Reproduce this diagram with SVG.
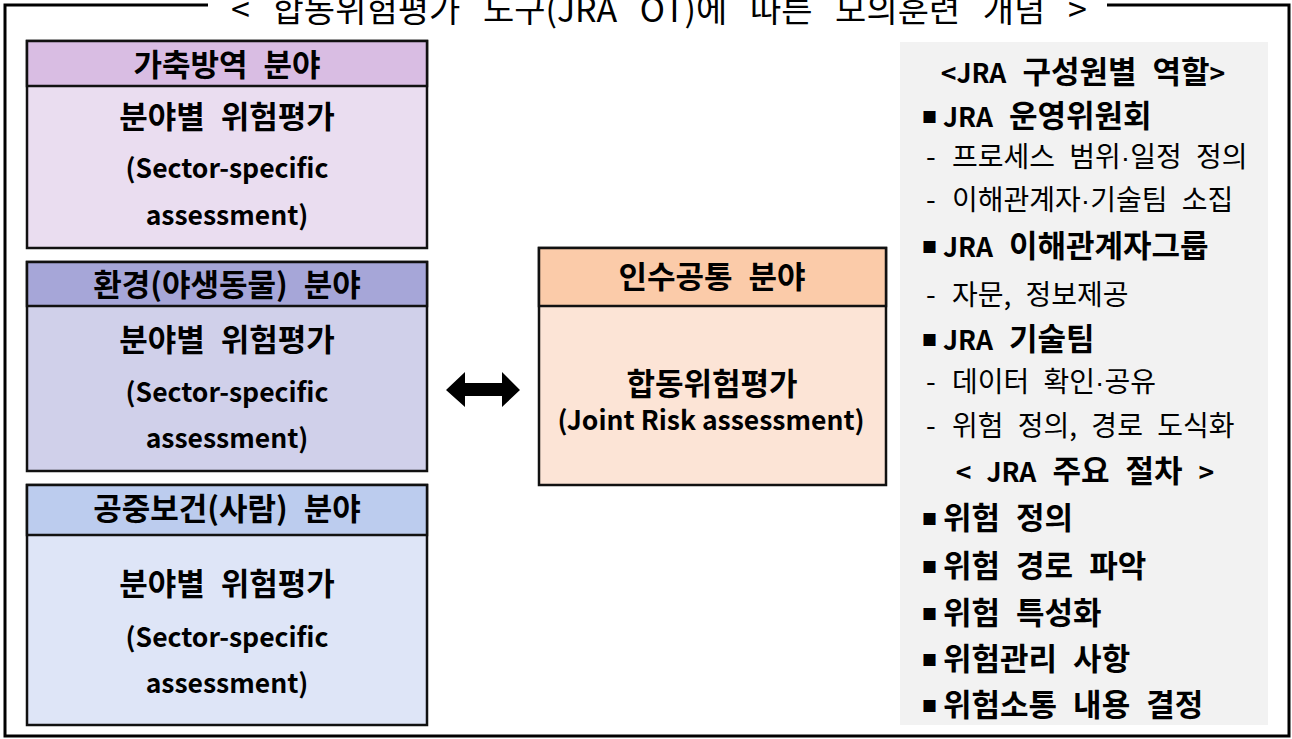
<svg xmlns="http://www.w3.org/2000/svg" width="1292" height="739" viewBox="0 0 1292 739">
<style>
.box{stroke:#111;stroke-width:2.5}
.t{font-family:"Noto Sans CJK KR","Noto Sans",sans-serif;fill:#000}
.b{font-weight:700;font-size:31px;word-spacing:9px}
.lat{font-weight:700;font-size:26.5px;word-spacing:0}
.l{font-size:26.5px}
.c{text-anchor:middle}
.r{font-weight:400;font-size:28px;word-spacing:8px}
.dot{font-family:"Liberation Sans",sans-serif}
.bul{font-size:15px;word-spacing:0}
</style>
<rect width="1292" height="739" fill="#fff"/>
<g id="frame">
<path d="M208 5 H5 V736 H1289 V5 H1107" fill="none" stroke="#000" stroke-width="3"/>
<text class="t c" x="659" y="22" font-size="34" word-spacing="15">&lt; 합동위험평가 도구(JRA OT)에 따른 모의훈련 개념 &gt;</text>
</g>
<g id="node-livestock">
<rect class="box" x="27" y="41" width="400" height="207" fill="#EADDF0"/>
<rect class="box" x="27" y="41" width="400" height="45" fill="#D9BDE3"/>
<text class="t b c" x="227" y="76">가축방역 분야</text>
<text class="t b c" x="227" y="128">분야별 위험평가</text>
<text class="t lat c" x="227" y="178">(Sector-specific</text>
<text class="t lat c" x="227" y="225">assessment)</text>
</g>
<g id="node-environment">
<rect class="box" x="27" y="262" width="400" height="209" fill="#D0D0EA"/>
<rect class="box" x="27" y="262" width="400" height="44" fill="#A6A6D8"/>
<text class="t b c" x="227" y="296">환경(야생동물) 분야</text>
<text class="t b c" x="227" y="351">분야별 위험평가</text>
<text class="t lat c" x="227" y="402">(Sector-specific</text>
<text class="t lat c" x="227" y="448">assessment)</text>
</g>
<g id="node-public-health">
<rect class="box" x="27" y="485" width="400" height="240" fill="#DEE5F7"/>
<rect class="box" x="27" y="485" width="400" height="50" fill="#BCCCEE"/>
<text class="t b c" x="227" y="520">공중보건(사람) 분야</text>
<text class="t b c" x="227" y="595">분야별 위험평가</text>
<text class="t lat c" x="227" y="647">(Sector-specific</text>
<text class="t lat c" x="227" y="693">assessment)</text>
</g>
<g id="node-zoonosis">
<rect class="box" x="539" y="248" width="347" height="237" fill="#FCE4D6"/>
<rect class="box" x="539" y="248" width="347" height="58" fill="#FBCBA9"/>
<text class="t b c" x="712" y="288">인수공통 분야</text>
<text class="t b c" x="712" y="395">합동위험평가</text>
<text class="t lat c" x="711" y="430" word-spacing="3">(Joint Risk assessment)</text>
</g>
<g id="connectors">
<polygon points="446,390 465,372 465,383 502,383 502,372 520,390 502,407 502,396 465,396 465,407" fill="#000"/>
</g>
<g id="node-roles-panel">
<rect x="900" y="42" width="368" height="683" fill="#F2F2F2"/>
<text class="t b c" x="1083" y="83"><tspan class="l">&lt;JRA</tspan> 구성원별 역할<tspan class="l">&gt;</tspan></text>
<text class="t b" x="922" y="127"><tspan class="bul" dy="-4">■</tspan><tspan class="l" x="943" dy="4">JRA</tspan> 운영위원회</text>
<text class="t r" x="926" y="167">-<tspan x="952">프로세스 범위<tspan class="dot">·</tspan>일정 정의</tspan></text>
<text class="t r" x="926" y="210">-<tspan x="952">이해관계자<tspan class="dot">·</tspan>기술팀 소집</tspan></text>
<text class="t b" x="922" y="257"><tspan class="bul" dy="-4">■</tspan><tspan class="l" x="943" dy="4">JRA</tspan> 이해관계자그룹</text>
<text class="t r" x="926" y="305">-<tspan x="952">자문, 정보제공</tspan></text>
<text class="t b" x="922" y="350"><tspan class="bul" dy="-4">■</tspan><tspan class="l" x="943" dy="4">JRA</tspan> 기술팀</text>
<text class="t r" x="926" y="392">-<tspan x="952">데이터 확인<tspan class="dot">·</tspan>공유</tspan></text>
<text class="t r" x="926" y="436">-<tspan x="952">위험 정의, 경로 도식화</tspan></text>
<text class="t b c" x="1085" y="482"><tspan class="l">&lt; JRA</tspan> 주요 절차 <tspan class="l">&gt;</tspan></text>
<text class="t b" x="922" y="529"><tspan class="bul" dy="-4">■</tspan><tspan x="943" dy="4">위험 정의</tspan></text>
<text class="t b" x="922" y="577"><tspan class="bul" dy="-4">■</tspan><tspan x="943" dy="4">위험 경로 파악</tspan></text>
<text class="t b" x="922" y="624"><tspan class="bul" dy="-4">■</tspan><tspan x="943" dy="4">위험 특성화</tspan></text>
<text class="t b" x="922" y="670"><tspan class="bul" dy="-4">■</tspan><tspan x="943" dy="4">위험관리 사항</tspan></text>
<text class="t b" x="922" y="716"><tspan class="bul" dy="-4">■</tspan><tspan x="943" dy="4">위험소통 내용 결정</tspan></text>
</g>
</svg>
